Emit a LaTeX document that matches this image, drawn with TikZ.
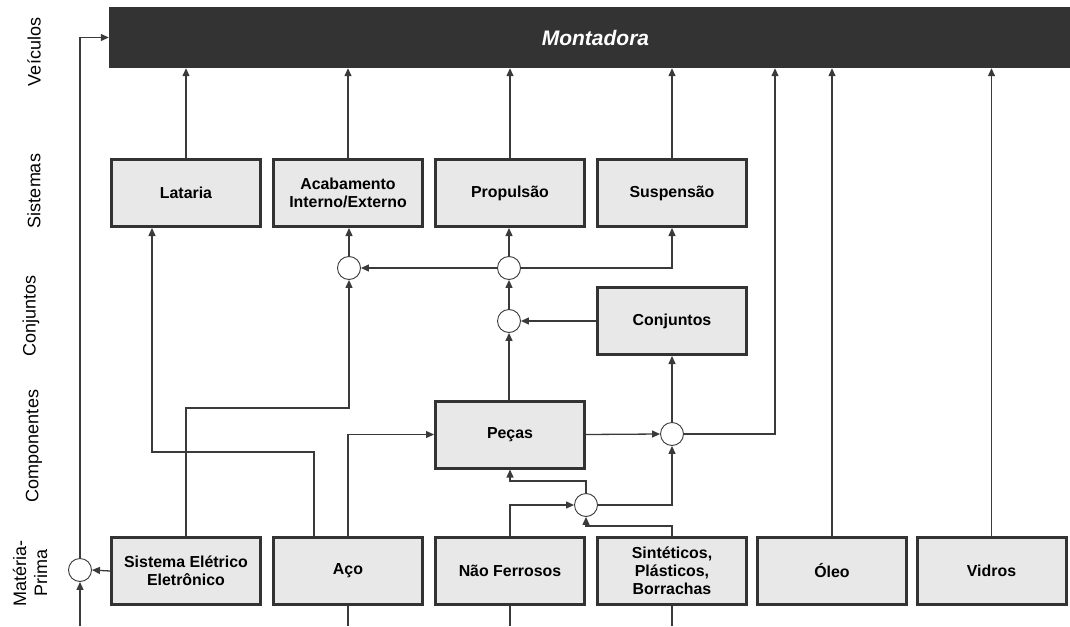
\documentclass[tikz,border=0pt]{standalone}
\usepackage{fontspec}
\setmainfont{Liberation Sans}
\usetikzlibrary{arrows.meta}
\definecolor{darkfill}{HTML}{333333}
\definecolor{boxfill}{HTML}{E8E8E8}
\definecolor{edge}{HTML}{333333}
\definecolor{wire}{HTML}{3A3A3A}
\begin{document}
\begin{tikzpicture}[x=1pt,y=-1pt,
  box/.style={draw=edge, line width=3pt, fill=boxfill, minimum width=149pt,
    minimum height=67pt, inner sep=0pt, align=center,
    font=\fontsize{15.9}{17.8}\selectfont\bfseries},
  junction/.style={circle, draw=wire, line width=0.9pt, fill=white,
    minimum size=23pt, inner sep=0pt},
  lane/.style={rotate=90, font=\fontsize{18}{19}\selectfont, align=center},
  link/.style={draw=wire, line width=1.3pt},
  arr/.style={link, -{Triangle[length=8pt,width=7pt]}}]
\useasboundingbox (0,0) rectangle (1070,626);

% lane titles
\node[lane] (lv) at (34,52) {Veículos};
\node[lane] (ls) at (34,191) {Sistemas};
\node[lane] (lc) at (31,316) {Conjuntos};
\node[lane] (lk) at (34,446) {Componentes};
\node[lane, font=\fontsize{18}{21}\selectfont] (lm) at (30,573) {Matéria-\\Prima};

% vehicle assembly
\node[fill=darkfill, minimum width=961pt, minimum height=61pt, inner sep=0pt,
  text=white, font=\fontsize{21}{24}\selectfont\bfseries\itshape]
  (mont) at (589.5,37.5) {\hspace*{12pt}Montadora};

% systems
\node[box] (lat)  at (186,193) {Lataria};
\node[box] (acab) at (348,193) {Acabamento\\Interno/Externo};
\node[box] (prop) at (510,193) {Propulsão};
\node[box] (susp) at (672,193) {Suspensão};

% sub-assemblies and parts
\node[box] (conj) at (672,321) {Conjuntos};
\node[box] (pec)  at (510,434.5) {Peças};

% raw materials
\node[box] (se)   at (186,571) {Sistema Elétrico\\Eletrônico};
\node[box] (aco)  at (348,571) {Aço};
\node[box] (nf)   at (510,571) {Não Ferrosos};
\node[box] (sint) at (672,571) {Sintéticos,\\Plásticos,\\Borrachas};
\node[box] (oleo) at (832,571) {Óleo};
\node[box] (vid)  at (991.5,571) {Vidros};

% junctions
\node[junction] (c1) at (349,268) {};
\node[junction] (c2) at (509,268) {};
\node[junction] (c3) at (509,321) {};
\node[junction] (c4) at (672,434) {};
\node[junction] (c5) at (586,505) {};
\node[junction] (c6) at (80,570) {};

% free ends and bends
\coordinate (b6) at (80,626);
\coordinate (bac) at (348,626);
\coordinate (bnf) at (510,626);
\coordinate (bsi) at (672,626);
\coordinate (k4) at (775,434);
\coordinate (k5) at (510,481);
\coordinate (k7) at (586,526);
\coordinate (ka) at (314,537);
\coordinate (kb) at (152,452);
\coordinate (kc) at (186,408);

% into the assembly plant
\draw[arr] (lat.north) -- (lat.north |- mont.south);
\draw[arr] (acab.north) -- (acab.north |- mont.south);
\draw[arr] (prop.north) -- (prop.north |- mont.south);
\draw[arr] (susp.north) -- (susp.north |- mont.south);
\draw[arr] (c4.east) -- (k4) -- (k4 |- mont.south);
\draw[arr] (oleo.north) -- (oleo.north |- mont.south);
\draw[arr] (vid.north) -- (vid.north |- mont.south);
\draw[arr] (c6.north) |- (mont.west);

% electrical system loop
\draw[arr] (se.west) -- (c6.east);
\draw[arr] (b6) -- (c6.south);

% systems feeds
\draw[arr] (c1.north) -- (c1.north |- acab.south);
\draw[arr] (c2.north) -- (c2.north |- prop.south);
\draw[arr] (c2.east) -| (susp.south);
\draw[arr] (c2.west) -- (c1.east);
\draw[arr] (c3.north) -- (c2.south);
\draw[arr] (conj.west) -- (c3.east);
\draw[arr] (pec.north -| c3) -- (c3.south);
\draw[arr] (c4.north) -- (c4.north |- conj.south);
\draw[arr] (pec.east) -- (c4.west);

% materials to parts
\draw[arr] (c5.east) -| (c4.south);
\draw[arr] (c5.north) |- (k5) -- (k5 |- pec.south);
\draw[arr] (nf.north) |- (c5.west);
\draw[arr] (sint.north) |- (k7) -- (c5.south);
\draw[arr] (aco.north) |- (pec.west);
\draw[arr] (ka) |- (kb) -- (kb |- lat.south);
\draw[arr] (se.north) |- (kc -| c1) -- (c1.south);

% supply lines from below
\draw[link] (aco.south) -- (bac);
\draw[link] (nf.south) -- (bnf);
\draw[link] (sint.south) -- (bsi);
\end{tikzpicture}
\end{document}
